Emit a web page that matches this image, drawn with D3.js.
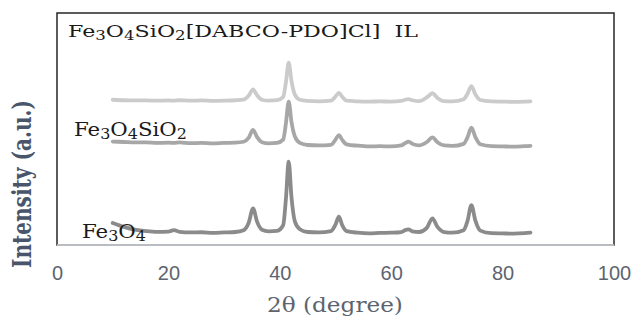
<!DOCTYPE html>
<html>
<head>
<meta charset="utf-8">
<script src="https://cdn.jsdelivr.net/npm/d3@7"></script>
<style>
  body { margin: 0; background: #fff; }
  svg { display: block; }
</style>
</head>
<body>
<svg width="632" height="324"></svg>
<script>
// 2-theta positions where the patterns were read
let twoTheta = [10, 12, 14, 16, 18, 20, 21, 22, 24, 26, 28, 30, 32, 33.5, 34.4, 35.2, 35.9, 36.8, 38, 39.5, 40.6, 41.1, 41.6, 42.1, 42.7, 43.6, 45, 47, 49.2, 50, 50.6, 51.2, 52, 54, 56, 58, 60, 61.8, 62.5, 63.1, 63.8, 65, 66.4, 67.4, 68.3, 69.5, 71, 73, 73.7, 74.4, 75.1, 76, 78, 80, 82, 84, 85]

let fe3o4 = [9.5, 7.8, 6.6, 6.0, 5.7, 5.8, 6.4, 5.7, 5.4, 5.5, 5.2, 5.4, 5.6, 6.4, 9.5, 15.8, 10.2, 6.6, 5.9, 6.1, 8.5, 20, 35.9, 20.5, 10.2, 6.8, 5.6, 5.4, 6.0, 8.8, 12.2, 8.6, 6.0, 5.3, 5.0, 5.2, 5.3, 5.6, 6.4, 6.7, 5.9, 5.6, 7.4, 11.5, 7.8, 5.6, 5.3, 6.4, 10.4, 17.2, 10.6, 6.2, 5.1, 5.0, 4.9, 5.1, 5.3]

let fe3o4SiO2 = [44.6, 44.4, 44.2, 44.2, 44.0, 44.1, 44.0, 44.2, 43.9, 44.0, 43.8, 44.0, 44.1, 44.5, 46.2, 49.6, 46.6, 44.3, 43.8, 44.0, 45.4, 52.5, 61.8, 53.0, 46.8, 44.0, 43.1, 42.9, 43.2, 45.4, 47.4, 45.3, 43.4, 42.8, 42.5, 42.6, 42.5, 42.9, 43.9, 44.6, 43.6, 42.9, 44.4, 46.4, 44.3, 42.9, 42.7, 43.6, 46.4, 50.6, 46.6, 43.4, 42.6, 42.5, 42.4, 42.6, 42.7]

let fe3o4SiO2IL = [62.6, 62.4, 62.3, 62.3, 62.2, 62.3, 62.2, 62.4, 62.2, 62.3, 62.1, 62.2, 62.4, 62.7, 64.3, 67.1, 64.6, 62.6, 62.2, 62.4, 63.8, 70.2, 78.6, 70.6, 64.8, 62.6, 62.1, 61.9, 62.2, 64.0, 65.6, 63.9, 62.2, 61.9, 61.8, 61.9, 61.8, 62.1, 62.6, 62.9, 62.4, 62.0, 63.6, 65.4, 63.4, 62.0, 61.9, 62.8, 65.2, 68.5, 65.0, 62.5, 61.9, 61.8, 61.7, 61.8, 61.9]

let xTicks = [0, 20, 40, 60, 80, 100]

let svg = d3.select('svg')

let x = d3.scaleLinear().domain([0, 100]).range([57, 614])
let y = d3.scaleLinear().domain([0, 100]).range([245, 13])

let line = d3.line()
  .x((d, i) => x(twoTheta[i]))
  .y(d => y(d))
  .curve(d3.curveMonotoneX)

let serif = 'DejaVu Serif, Cambria, serif'

// the original figure is stretched sideways, so text is fitted to its width
let fitText = (sel, tx, ty, targetW) => {
  let w = sel.node().getBBox().width
  sel.attr('transform', 'translate(' + tx + ',' + ty + ') scale(' + (targetW / w) + ',1)')
}

// plot frame
svg.append('rect')
  .attr('x', x(0))
  .attr('y', y(100))
  .attr('width', x(100) - x(0))
  .attr('height', y(0) - y(100))
  .attr('fill', 'none')
  .attr('stroke', '#262626')
  .attr('stroke-width', 1.5)

svg.append('line')
  .attr('x1', x(0)).attr('x2', x(100))
  .attr('y1', y(0)).attr('y2', y(0))
  .attr('stroke', '#d9dde3')
  .attr('stroke-width', 1.5)

let xAxis = svg.append('g')
  .attr('transform', 'translate(0,' + y(0) + ')')
  .call(d3.axisBottom(x).tickValues(xTicks).tickSize(0).tickPadding(21))
xAxis.select('.domain').remove()
xAxis.selectAll('text')
  .attr('fill', '#5d6470')
  .style('font-family', 'Liberation Sans, Arial, sans-serif')
  .style('font-size', '20px')

let patterns = [
  { values: fe3o4, color: '#8b8b8b' },
  { values: fe3o4SiO2, color: '#a7a7a7' },
  { values: fe3o4SiO2IL, color: '#cbcbcb' }
]

svg.append('g')
  .selectAll('path')
  .data(patterns)
  .enter()
  .append('path')
  .attr('d', d => line(d.values))
  .attr('fill', 'none')
  .attr('stroke', d => d.color)
  .attr('stroke-width', 3.8)
  .attr('stroke-linejoin', 'round')
  .attr('stroke-linecap', 'round')

// series labels: [text, 1 = subscript]
let addLabel = (parts, size, lx, ly, targetW) => {
  let t = svg.append('text')
    .attr('fill', '#1a1a1a')
    .style('font-family', serif)
    .style('font-size', size + 'px')
  let low = false
  parts.forEach(p => {
    let sub = p[1] === 1
    let dy = sub && !low ? 3 : (!sub && low ? -3 : 0)
    low = sub
    t.append('tspan')
      .text(p[0])
      .style('font-size', (sub ? size * 0.75 : size) + 'px')
      .attr('dy', dy)
  })
  fitText(t, lx, ly, targetW)
}

addLabel([['Fe'], ['3', 1], ['O'], ['4', 1], ['SiO'], ['2', 1], ['[DABCO-PDO]Cl]\u00a0\u00a0IL']], 17, 68, 37, 350)
addLabel([['Fe'], ['3', 1], ['O'], ['4', 1], ['SiO'], ['2', 1]], 19, 74, 136, 113)
addLabel([['Fe'], ['3', 1], ['O'], ['4', 1]], 19, 82, 238, 64)

// axis titles
let xTitle = svg.append('text')
  .attr('fill', '#5d6470')
  .style('font-family', serif)
  .style('font-size', '20px')
  .text('2θ (degree)')
fitText(xTitle, 267, 312, 136)

let yTitle = svg.append('text')
  .attr('text-anchor', 'middle')
  .attr('fill', '#48556a')
  .style('font-family', serif)
  .style('font-size', '20px')
  .style('font-weight', 'bold')
  .text('Intensity (a.u.)')
let yLen = yTitle.node().getBBox().width
yTitle.style('font-size', (20 * 168 / yLen) + 'px')
yTitle.attr('transform', 'translate(31,184) scale(1.3,1) rotate(-90)')
</script>
</body>
</html>
